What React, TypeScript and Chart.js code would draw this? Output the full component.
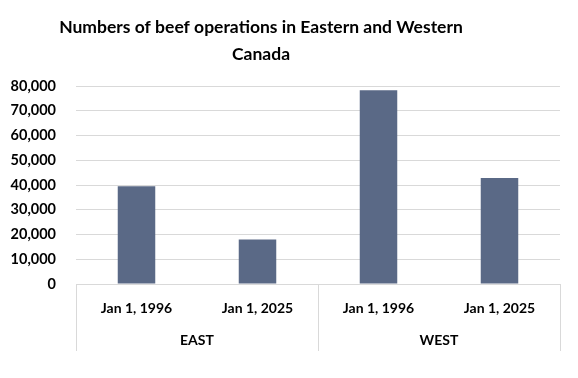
import React, { useEffect, useRef } from "react";
import { Chart, registerables } from "chart.js";

Chart.register(...registerables);

const TITLE_LINES = ["Numbers of beef operations in Eastern and Western", "Canada"];
const CATEGORIES = ["Jan 1, 1996", "Jan 1, 2025", "Jan 1, 1996", "Jan 1, 2025"];
const GROUPS = ["EAST", "WEST"];
const VALUES = [39500, 18000, 78300, 42800];
const Y_MAX = 80000;
const Y_STEP = 10000;

const FONT = "Lato, 'Open Sans', sans-serif";
const GRID = "#d9d9d9";
const BAR = "#5a6986";

const overlay = {
  id: "overlay",
  afterDraw(chart: any) {
    const ctx = chart.ctx;
    const x = chart.scales.x;
    const area = chart.chartArea;
    ctx.save();
    // title
    ctx.fillStyle = "#000";
    ctx.font = `bold 17.5px ${FONT}`;
    ctx.textAlign = "center";
    ctx.textBaseline = "middle";
    TITLE_LINES.forEach((t, i) => ctx.fillText(t, 253, 19 + i * 27));
    // separators
    const bottom = 343;
    const mid = (x.getPixelForTick(1) + x.getPixelForTick(2)) / 2;
    ctx.strokeStyle = GRID;
    ctx.lineWidth = 1;
    ctx.beginPath();
    [area.left, mid, area.right].forEach((px) => {
      const p = Math.round(px) + 0.5;
      ctx.moveTo(p, area.bottom);
      ctx.lineTo(p, bottom);
    });
    ctx.stroke();
    // group labels
    ctx.font = `bold 14px ${FONT}`;
    ctx.fillStyle = "#000";
    GROUPS.forEach((g, i) => {
      const cx = (x.getPixelForTick(i * 2) + x.getPixelForTick(i * 2 + 1)) / 2;
      ctx.fillText(g, cx, 332);
    });
    ctx.restore();
  },
};

export default function App() {
  const ref = useRef<HTMLCanvasElement>(null);
  useEffect(() => {
    const chart = new Chart(ref.current!, {
      type: "bar",
      data: {
        labels: CATEGORIES,
        datasets: [
          {
            data: VALUES,
            backgroundColor: BAR,
            borderWidth: 0,
            barPercentage: 0.31,
            categoryPercentage: 1,
          },
        ],
      },
      options: {
        animation: false,
        responsive: false,
        devicePixelRatio: 1,
        layout: { padding: { top: 78, right: 10, left: 0, bottom: 0 } },
        plugins: { legend: { display: false }, title: { display: false }, tooltip: { enabled: false } },
        scales: {
          x: {
            grid: { display: false },
            border: { display: true, color: GRID, width: 1 },
            ticks: { color: "#000", font: { family: FONT, size: 14, weight: "bold" }, padding: 8, maxRotation: 0 },
            afterFit: (s: any) => {
              s.height = 86;
            },
          },
          y: {
            min: 0,
            max: Y_MAX,
            ticks: {
              stepSize: Y_STEP,
              color: "#000",
              padding: 20,
              font: { family: FONT, size: 14.5, weight: "bold" },
              callback: (v: any) => Number(v).toLocaleString("en-US"),
            },
            grid: { color: GRID, drawTicks: false, lineWidth: 1 },
            border: { display: false },
            afterFit: (s: any) => {
              s.width = 68;
            },
          },
        },
      },
      plugins: [overlay],
    });
    return () => chart.destroy();
  }, []);
  return (
    <div style={{ width: 562, height: 362 }}>
      <canvas ref={ref} width={562} height={362} style={{ display: "block" }} />
    </div>
  );
}
